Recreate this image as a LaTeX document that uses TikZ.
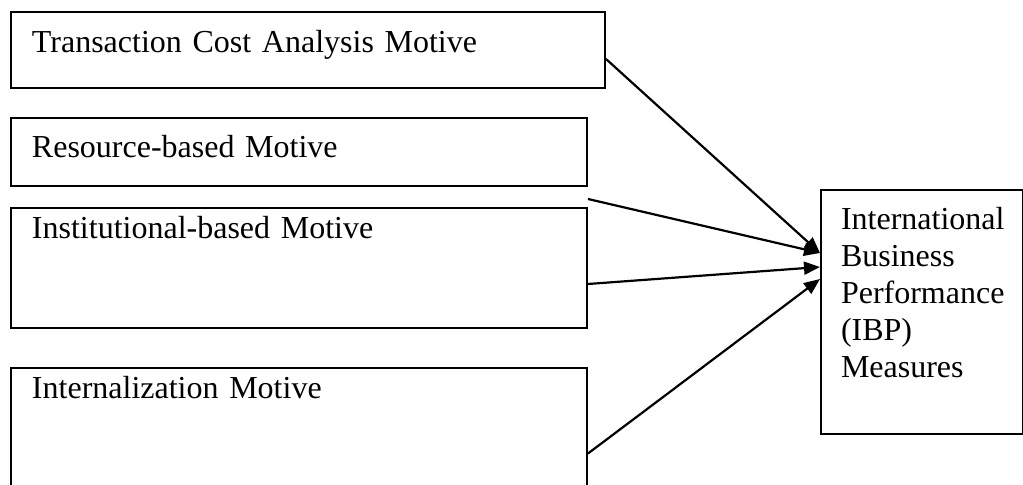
\documentclass[tikz,border=0pt]{standalone}
\usepackage{fontspec}
\setmainfont{Liberation Serif}
\usetikzlibrary{arrows.meta,calc}
\tikzset{
  motivebox/.style={draw=black, line width=1pt, anchor=north west, align=left, inner xsep=10.5pt, inner ysep=0pt, text width=267pt, font=\fontsize{16}{18.4}\selectfont},
  ibpbox/.style={draw=black, line width=1pt, anchor=north west, align=left, inner xsep=10pt, inner ysep=0pt, text width=81pt, text height=20pt, text depth=102pt, font=\fontsize{16}{18.4}\selectfont},
  arrow/.style={-{Triangle[length=8pt,width=6.5pt]}, line width=1.1pt}
}

\begin{document}
\begin{tikzpicture}[x=0.5pt, y=-0.5pt]
\useasboundingbox (0,0) rectangle (1023,485);
\node[motivebox, text width=276pt, text height=20.5pt, text depth=17.5pt] (tca) at (10,11) {Transaction Cost Analysis Motive};
\node[motivebox, text height=20pt, text depth=14pt] (rbm) at (10,117) {Resource-based Motive};
\node[motivebox, text height=15.5pt, text depth=44.5pt] (ibm) at (10,207) {Institutional-based Motive};
\node[motivebox, text height=15.5pt, text depth=45pt] (inm) at (10,367) {Internalization Motive};
\node[ibpbox] (ibp) at (820,189) {International\\ Business\\ Performance\\ (IBP)\\ Measures};
\coordinate (gap) at ($(rbm.south east)!0.6!(ibm.north east)$);
\draw[arrow] ([yshift=-4.5pt]tca.east) -- ([yshift=29.5pt]ibp.west);
\draw[arrow] (gap) -- ([yshift=29.5pt]ibp.west);
\draw[arrow] ([yshift=-8pt]ibm.east) -- ([yshift=22.5pt]ibp.west);
\draw[arrow] ([yshift=-12.5pt]inm.east) -- ([yshift=16.5pt]ibp.west);
\end{tikzpicture}
\end{document}
